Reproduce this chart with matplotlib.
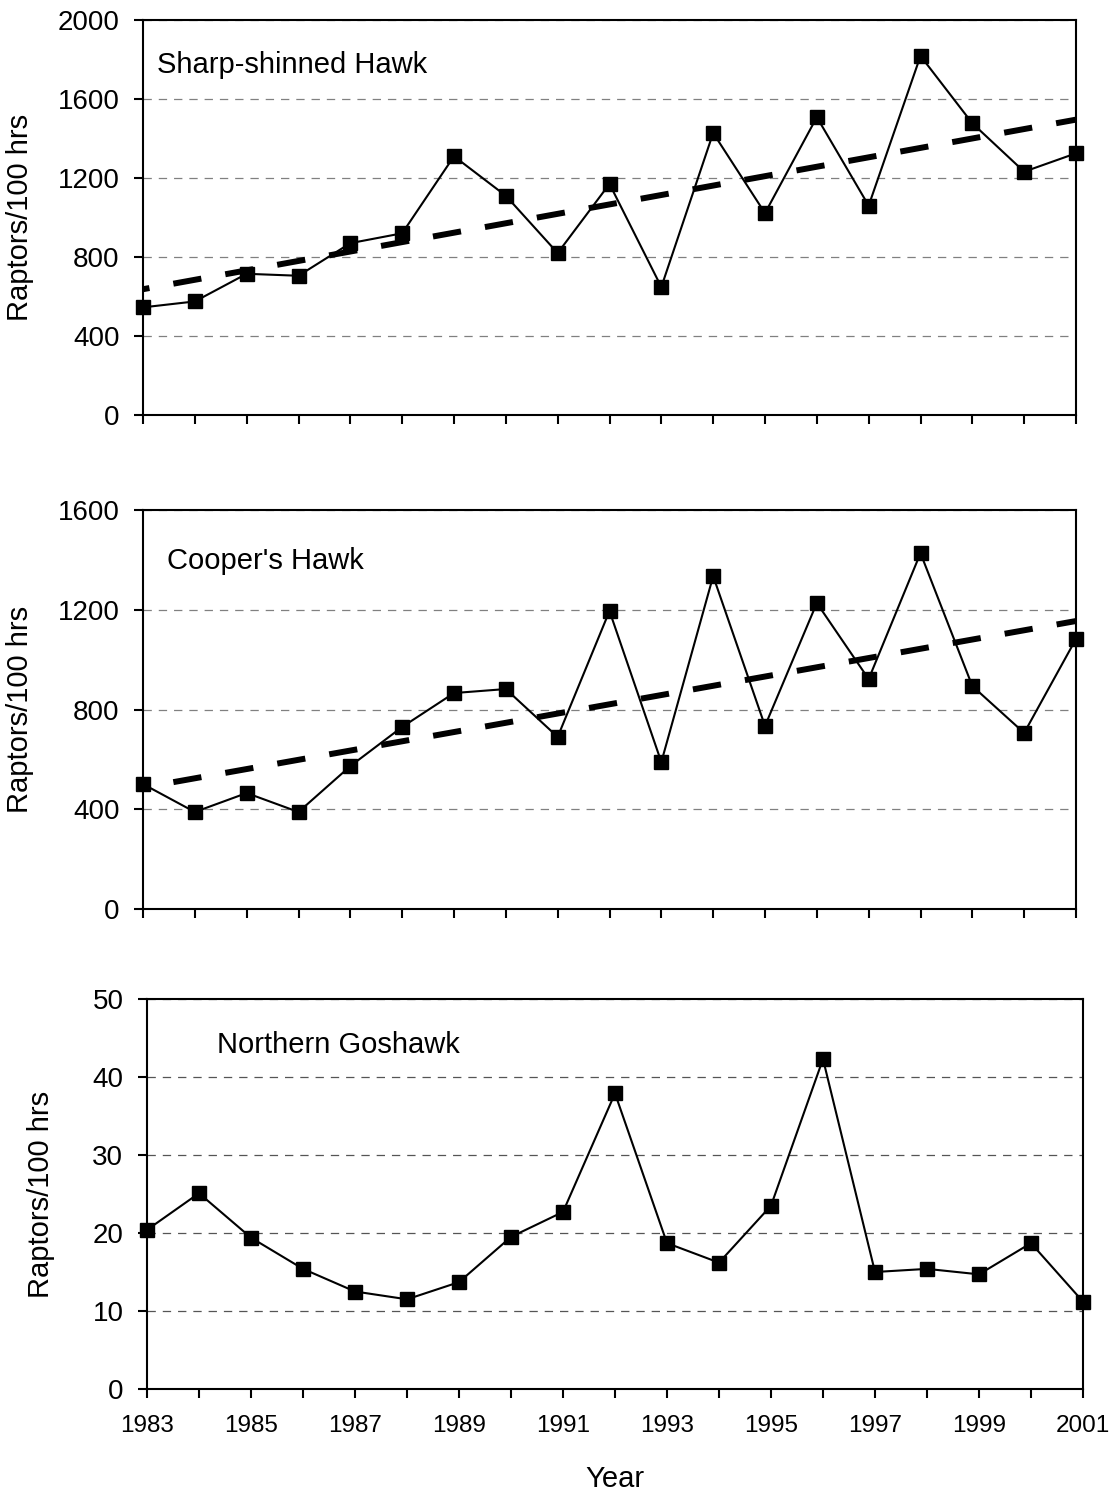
import numpy as np
import matplotlib
matplotlib.use('Agg')
import matplotlib.pyplot as plt

plt.rcParams['font.family'] = ['Liberation Sans', 'DejaVu Sans']
plt.rcParams['lines.scale_dashes'] = False

years = list(range(1983, 2002))

sharp_shinned = [545, 575, 715, 705, 870, 920, 1310, 1110, 820, 1170, 648,
                 1428, 1022, 1508, 1060, 1818, 1477, 1232, 1325]
coopers = [501, 389, 465, 389, 573, 730, 866, 882, 690, 1195, 589,
           1335, 734, 1227, 922, 1427, 894, 706, 1083]
goshawk = [20.4, 25.1, 19.4, 15.4, 12.5, 11.5, 13.7, 19.5, 22.7, 37.9, 18.7,
           16.2, 23.5, 42.3, 15.0, 15.4, 14.7, 18.7, 11.2]

species = ["Sharp-shinned Hawk", "Cooper's Hawk", "Northern Goshawk"]
y_max = [2000, 1600, 50]
y_step = [400, 400, 10]
show_trend = [True, True, False]
y_label = 'Raptors/100 hrs'
x_label = 'Year'


def draw_panel(ax, values, name, ymax, ystep, trend, grid_color, last):
    ax.set_xlim(years[0], years[-1])
    ax.set_ylim(0, ymax)
    ax.set_yticks(np.arange(0, ymax + 1, ystep))
    ax.set_xticks(years)
    if last:
        ax.set_xticklabels([str(y) if (y - years[0]) % 2 == 0 else '' for y in years])
    else:
        ax.set_xticklabels([])

    # dashed horizontal gridlines
    ax.yaxis.grid(True, color=grid_color, linewidth=0.9, linestyle=(0, (6, 5)))
    ax.set_axisbelow(True)

    if trend:
        fit = np.polyfit(years, values, 1)
        ends = [years[0], years[-1]]
        ax.plot(ends, np.polyval(fit, ends), color='black', linewidth=4.3,
                linestyle=(15.8, (20.5, 17.5)), dash_capstyle='butt', zorder=2)

    ax.plot(years, values, color='black', linewidth=1.5, marker='s',
            markersize=9.5, clip_on=False, zorder=3)

    ax.text(0, 0, name, fontsize=21, transform=ax.transAxes)

    for side in ['left', 'right', 'top', 'bottom']:
        ax.spines[side].set_linewidth(1.5)
        ax.spines[side].set_color('black')
    ax.tick_params(axis='both', direction='out', length=6.5, width=1.5,
                   colors='black')
    ax.tick_params(axis='y', labelsize=20, pad=10.5)
    ax.tick_params(axis='x', labelsize=17.5, pad=12.5)
    ax.set_ylabel(y_label, fontsize=21)


fig = plt.figure(figsize=(11.15, 14.92), dpi=100)
ax1 = fig.add_axes([143 / 1115, 1 - 415 / 1492, 933 / 1115, 395 / 1492])
ax2 = fig.add_axes([143 / 1115, 1 - 909 / 1492, 933 / 1115, 399 / 1492])
ax3 = fig.add_axes([147 / 1115, 1 - 1389 / 1492, 936 / 1115, 390 / 1492])

draw_panel(ax1, sharp_shinned, species[0], y_max[0], y_step[0], show_trend[0], '#808080', False)
draw_panel(ax2, coopers, species[1], y_max[1], y_step[1], show_trend[1], '#808080', False)
draw_panel(ax3, goshawk, species[2], y_max[2], y_step[2], show_trend[2], '#555555', True)

# label placement per panel
ax1.texts[0].set_position((0.015, 0.866))
ax2.texts[0].set_position((0.0257, 0.852))
ax3.texts[0].set_position((0.0748, 0.8615))

ax1.yaxis.set_label_coords(-0.117, 0.5)
ax2.yaxis.set_label_coords(-0.117, 0.5)
ax3.yaxis.set_label_coords(-0.0983, 0.5)

ax3.set_xlabel(x_label, fontsize=21)
ax3.xaxis.set_label_coords(0.5, -0.195)

plt.savefig('out.png', dpi=100)
plt.close()
